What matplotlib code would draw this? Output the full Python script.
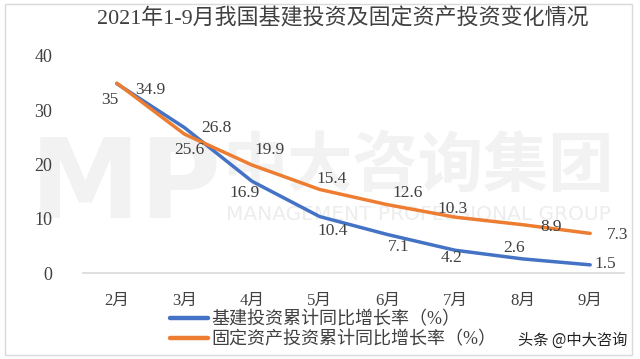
import matplotlib
matplotlib.use("Agg")
import matplotlib.pyplot as plt
from matplotlib.patches import Rectangle

months = ['2月', '3月', '4月', '5月', '6月', '7月', '8月', '9月']
jijian = [34.9, 26.8, 16.9, 10.4, 7.1, 4.2, 2.6, 1.5]
guding = [35, 25.6, 19.9, 15.4, 12.6, 10.3, 8.9, 7.3]
name_jijian = '基建投资累计同比增长率（%）'
name_guding = '固定资产投资累计同比增长率（%）'
title = '2021年1-9月我国基建投资及固定资产投资变化情况'

# label offsets in pixels (dx, dy)
off_jijian = [(33, -6), (32, 0), (-7, -12), (13, -14), (11, -13), (-3, -8), (-8, 11), (15, 1)]
off_guding = [(-7, -17), (5, -16), (18, 15), (12, 10), (20, 12), (-2, 8), (29, -2), (27, -2)]

serif = ['Liberation Serif', 'Noto Sans CJK SC']
txt = '#404040'

fig = plt.figure(figsize=(6.4, 3.59), dpi=100)
ax = fig.add_axes([83/640, 1-273/359, (624-83)/640, (273-56)/359])
ax.patch.set_visible(False)

# watermark
fig.text(30/640, 1-187/359, 'MP', fontsize=80, fontweight='bold', color='#f2f2f2',
         family='DejaVu Sans', va='center', ha='left', zorder=-5)
fig.text(222/640, 1-166/359, '中大咨询集团', fontsize=47, fontweight='bold', color='#f2f2f2',
         family='Noto Sans CJK SC', va='center', ha='left', zorder=-5)
fig.text(226/640, 1-215/359, 'MANAGEMENT PROFESSIONAL GROUP', fontsize=14.5, color='#ededed',
         family='DejaVu Sans', va='center', ha='left', zorder=-5)

x = list(range(len(months)))
ax.plot(x, jijian, color='#4472C4', lw=2.5, label=name_jijian, solid_capstyle='round', zorder=3)
ax.plot(x, guding, color='#ED7D31', lw=2.5, label=name_guding, solid_capstyle='round', zorder=3)

for i in x:
    ax.annotate(f'{jijian[i]:g}', (i, jijian[i]), xytext=off_jijian[i], textcoords='offset pixels',
                ha='center', va='center', fontsize=12.5, family=serif, color=txt)
    ax.annotate(f'{guding[i]:g}', (i, guding[i]), xytext=off_guding[i], textcoords='offset pixels',
                ha='center', va='center', fontsize=12.5, family=serif, color=txt)

ax.set_xlim(-0.5, len(months) - 0.5)
ax.set_ylim(0, 40)
ax.set_yticks([0, 10, 20, 30, 40])
ax.set_xticks(x)
ax.set_xticklabels(months, family=serif, fontsize=12, color=txt)
for t in ax.get_yticklabels():
    t.set_family(serif)
    t.set_fontsize(13)
    t.set_color(txt)
ax.tick_params(length=0)
ax.tick_params(axis='x', pad=14)
ax.tick_params(axis='y', pad=22)
for s in ['top', 'right', 'left']:
    ax.spines[s].set_visible(False)
ax.spines['bottom'].set_color('#d9d9d9')
ax.spines['bottom'].set_linewidth(1.2)

fig.text(343/640, 1-19/359, title, ha='center', va='center', fontsize=15.8, family=serif, color=txt)

leg = fig.legend(loc='center left', bbox_to_anchor=(170/640, 1-330/359), frameon=False,
                 borderpad=0, borderaxespad=0, handlelength=2.1, handletextpad=0.2,
                 labelspacing=0.15, prop={'family': serif, 'size': 13})
for t in leg.get_texts():
    t.set_color(txt)
for h in leg.get_lines():
    h.set_linewidth(3.2)

fig.text(627/640, 1-340/359, '头条 @中大咨询', ha='right', va='center', fontsize=11,
         family='Noto Sans CJK SC', color='#222222')

fig.patches.append(Rectangle((5/640, 4/359), 627/640, 351/359, transform=fig.transFigure,
                             fill=False, edgecolor='#d9d9d9', lw=1))

fig.savefig('out.png', dpi=100)
